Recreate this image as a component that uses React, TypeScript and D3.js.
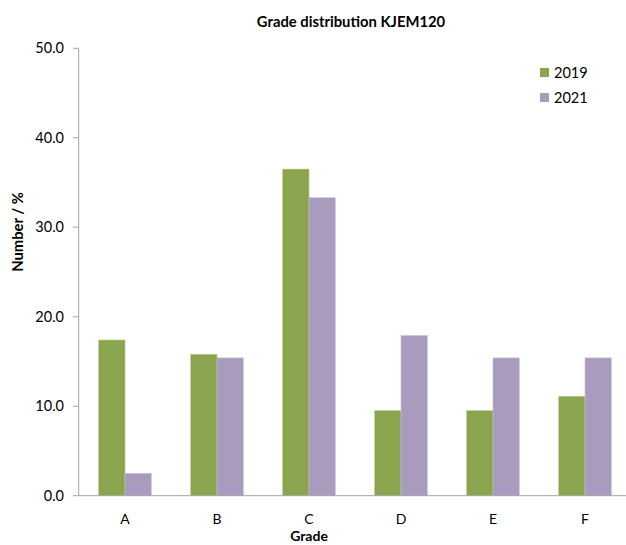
import React from "react";
import * as d3 from "d3";

const categories = ["A", "B", "C", "D", "E", "F"];
const seriesNames = ["2019", "2021"];
const values2019 = [17.4, 15.8, 36.5, 9.5, 9.5, 11.1];
const values2021 = [2.5, 15.4, 33.3, 17.9, 15.4, 15.4];
const yTicks = [0, 10, 20, 30, 40, 50];
const colors = ["#8ba44e", "#a99bbe"];
const strokes = ["#b3c68a", "#c9bfd8"];

const W = 626;
const H = 545;
const FONT = "Lato, 'Open Sans', sans-serif";

export default function App() {
  const x = d3.scaleBand<string>().domain(categories).range([79, 631]).paddingInner(0).paddingOuter(0);
  const y = d3.scaleLinear().domain([0, 50]).range([495.7, 48.3]);
  const inner = d3.scaleBand<string>().domain(seriesNames).range([0, 52.6]);
  const groupOffset = (x.bandwidth() - 52.6) / 2;
  const series = [values2019, values2021];

  return (
    <svg width={W} height={H} style={{ position: "absolute", left: 0, top: 0, background: "#fff" }} fontFamily={FONT}>
      <rect x={0} y={0} width={W} height={H} fill="#fff" />
      <text x={351} y={27} textAnchor="middle" fontSize={14.8} fontWeight="bold" fill="#000">
        Grade distribution KJEM120
      </text>
      {series.map((vals, si) =>
        vals.map((v, i) => (
          <rect
            key={`${si}-${i}`}
            x={(x(categories[i]) as number) + groupOffset + (inner(seriesNames[si]) as number)}
            y={y(v)}
            width={inner.bandwidth()}
            height={y(0) - y(v)}
            fill={colors[si]}
            stroke={strokes[si]}
            strokeWidth={0.6}
          />
        ))
      )}
      <line x1={78.7} x2={78.7} y1={y(50)} y2={y(0)} stroke="#a6a6a6" strokeWidth={1} />
      {yTicks.map((t) => (
        <g key={t}>
          <line x1={73} x2={78.7} y1={y(t)} y2={y(t)} stroke="#a6a6a6" strokeWidth={1} />
          <text x={64} y={y(t)} dy="0.35em" textAnchor="end" fontSize={14.5} fill="#000">
            {t.toFixed(1)}
          </text>
        </g>
      ))}
      <line x1={78.7} x2={631} y1={y(0)} y2={y(0)} stroke="#a6a6a6" strokeWidth={1} />
      {categories.map((c) => (
        <text key={c} x={(x(c) as number) + x.bandwidth() / 2} y={524} textAnchor="middle" fontSize={14} fill="#000">
          {c}
        </text>
      ))}
      <text x={309} y={541} textAnchor="middle" fontSize={14} fontWeight="bold" fill="#000">
        Grade
      </text>
      <text transform="translate(23,232) rotate(-90)" textAnchor="middle" fontSize={14.8} fontWeight="bold" fill="#000">
        Number / %
      </text>
      {seriesNames.map((s, i) => (
        <g key={s} transform={`translate(540,${68 + i * 25})`}>
          <rect x={0} y={0} width={9} height={9} fill={colors[i]} />
          <text x={14} y={9.5} fontSize={14.5} fill="#000">
            {s}
          </text>
        </g>
      ))}
    </svg>
  );
}
